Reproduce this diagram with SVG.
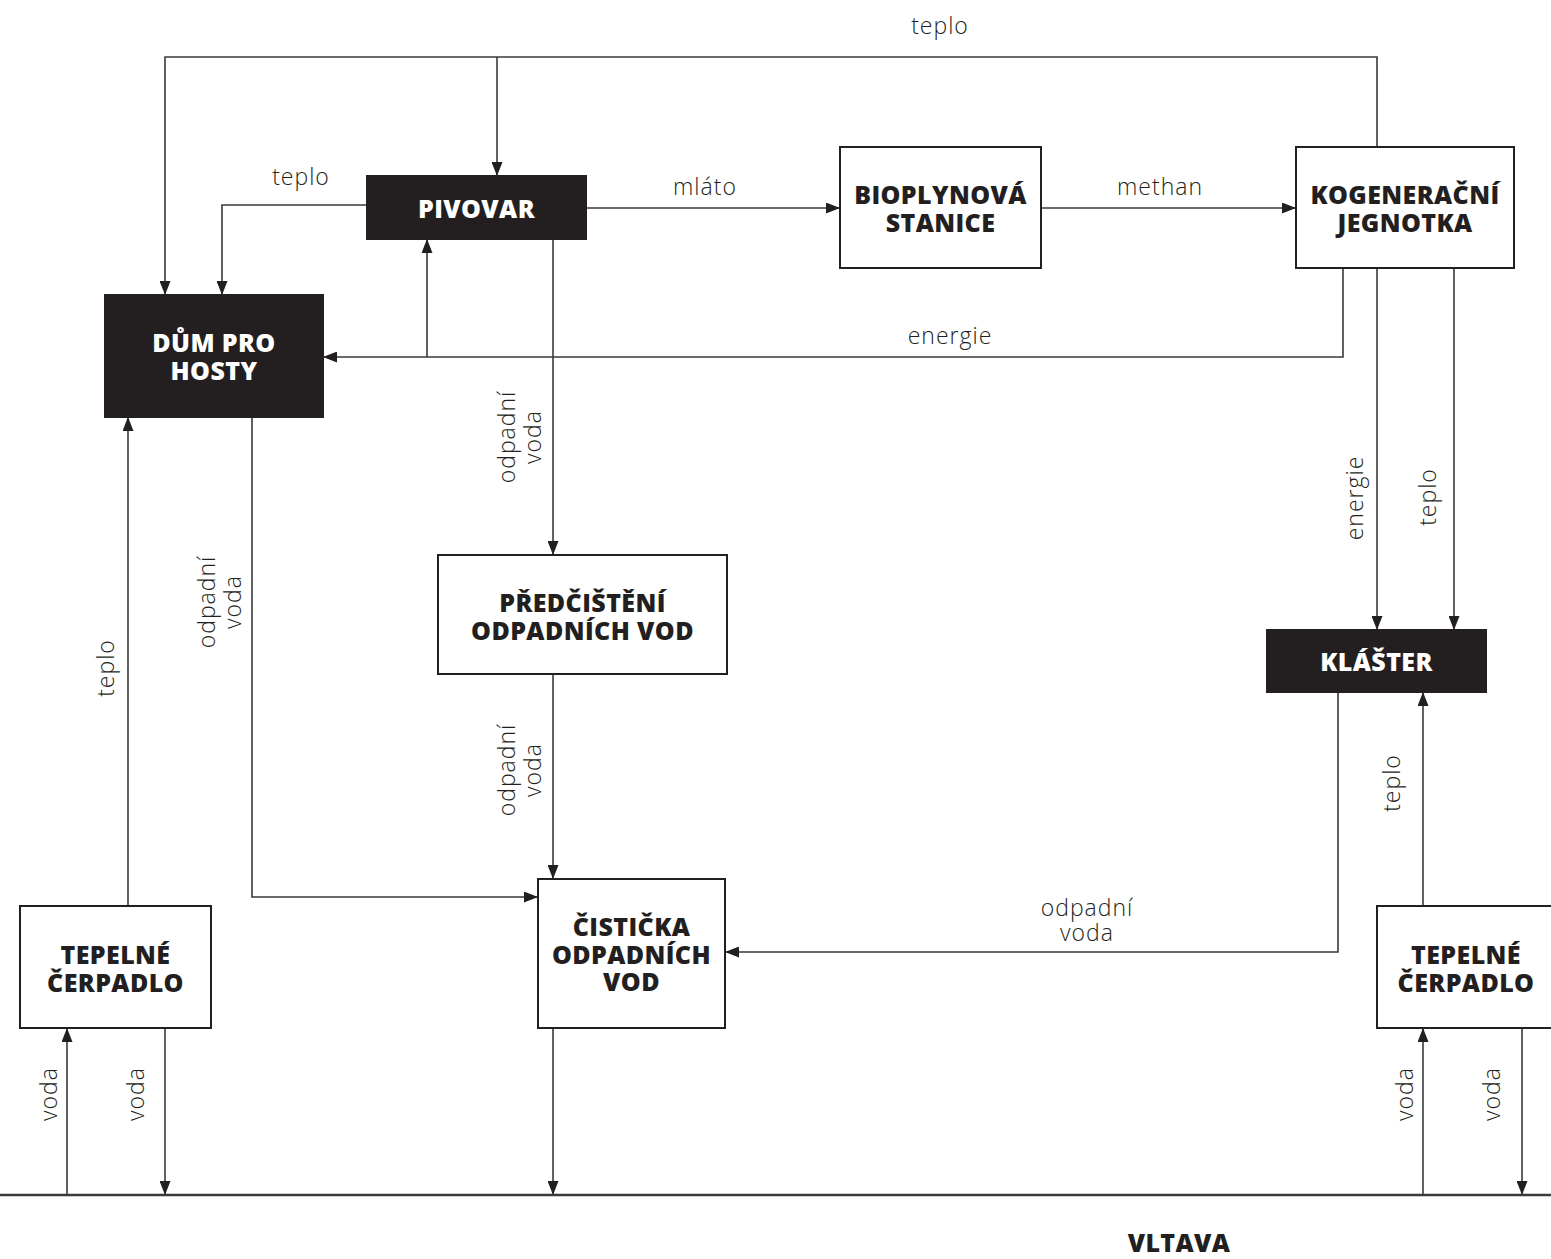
<svg xmlns="http://www.w3.org/2000/svg" width="1551" height="1259" viewBox="0 0 1551 1259">
<style>
.box{fill:#fff;stroke:#231f20;stroke-width:2}
.dark{fill:#231f20;stroke:#231f20;stroke-width:2}
.t{font-family:"Open Sans","Liberation Sans",sans-serif;font-weight:800;font-size:25px;text-anchor:middle;fill:#231f20;letter-spacing:0.4px}
.tw{fill:#fff}
.l{font-family:"Open Sans","Liberation Sans",sans-serif;font-weight:300;font-size:23px;text-anchor:middle;fill:#231f20;letter-spacing:1px}
.c{fill:none;stroke:#3a3a3a;stroke-width:1.6}
</style>
<defs>
<marker id="ah" viewBox="0 0 14 11" refX="14" refY="5.5" markerWidth="14" markerHeight="11" orient="auto" markerUnits="userSpaceOnUse">
<path d="M0,0 L14,5.5 L0,11 Z" fill="#231f20"/>
</marker>
</defs>
<g id="connectors">
<path class="c" d="M1377,147 V57 H165 V295" marker-end="url(#ah)"/>
<path class="c" d="M497,57 V176" marker-end="url(#ah)"/>
<path class="c" d="M367,205 H222 V295" marker-end="url(#ah)"/>
<path class="c" d="M586,208 H840" marker-end="url(#ah)"/>
<path class="c" d="M1041,208 H1296" marker-end="url(#ah)"/>
<path class="c" d="M1343,268 V357 H323" marker-end="url(#ah)"/>
<path class="c" d="M427,357 V239" marker-end="url(#ah)"/>
<path class="c" d="M1377,268 V630" marker-end="url(#ah)"/>
<path class="c" d="M1454,268 V630" marker-end="url(#ah)"/>
<path class="c" d="M553,239 V555" marker-end="url(#ah)"/>
<path class="c" d="M553,674 V879" marker-end="url(#ah)"/>
<path class="c" d="M553,1028 V1195" marker-end="url(#ah)"/>
<path class="c" d="M252,417 V897 H538" marker-end="url(#ah)"/>
<path class="c" d="M128,906 V417" marker-end="url(#ah)"/>
<path class="c" d="M1338,692 V952 H725" marker-end="url(#ah)"/>
<path class="c" d="M1423,906 V692" marker-end="url(#ah)"/>
<path class="c" d="M67,1195 V1028" marker-end="url(#ah)"/>
<path class="c" d="M165,1028 V1195" marker-end="url(#ah)"/>
<path class="c" d="M1423,1195 V1028" marker-end="url(#ah)"/>
<path class="c" d="M1522,1028 V1195" marker-end="url(#ah)"/>
<line x1="0" y1="1195" x2="1551" y2="1195" stroke="#3a3a3a" stroke-width="2.5"/>
<text class="l" x="940" y="34">teplo</text>
<text class="l" x="301" y="185">teplo</text>
<text class="l" x="705" y="195">mláto</text>
<text class="l" x="1160" y="195">methan</text>
<text class="l" x="950" y="344">energie</text>
<text class="l" x="1087" y="916">odpadní<tspan x="1087" dy="25">voda</tspan></text>
<text class="l" transform="translate(114,668) rotate(-90)">teplo</text>
<text class="l" transform="translate(215,602) rotate(-90)">odpadní<tspan x="0" dy="26">voda</tspan></text>
<text class="l" transform="translate(515,437) rotate(-90)">odpadní<tspan x="0" dy="26">voda</tspan></text>
<text class="l" transform="translate(515,770) rotate(-90)">odpadní<tspan x="0" dy="26">voda</tspan></text>
<text class="l" transform="translate(1363,498) rotate(-90)">energie</text>
<text class="l" transform="translate(1436,497) rotate(-90)">teplo</text>
<text class="l" transform="translate(1400,783) rotate(-90)">teplo</text>
<text class="l" transform="translate(57,1094) rotate(-90)">voda</text>
<text class="l" transform="translate(144,1094) rotate(-90)">voda</text>
<text class="l" transform="translate(1413,1094) rotate(-90)">voda</text>
<text class="l" transform="translate(1500,1094) rotate(-90)">voda</text>
</g>
<g id="pivovar">
<rect class="dark" x="367" y="176" width="219" height="63"/>
<text class="t tw" x="476.5" y="218">PIVOVAR</text>
</g>
<g id="bioplynova">
<rect class="box" x="840" y="147" width="201" height="121"/>
<text class="t" x="940.5" y="204">BIOPLYNOVÁ<tspan x="940.5" dy="28">STANICE</tspan></text>
</g>
<g id="kogeneracni">
<rect class="box" x="1296" y="147" width="218" height="121"/>
<text class="t" x="1405" y="204">KOGENERAČNÍ<tspan x="1405" dy="28">JEGNOTKA</tspan></text>
</g>
<g id="dum">
<rect class="dark" x="105" y="295" width="218" height="122"/>
<text class="t tw" x="214" y="352">DŮM PRO<tspan x="214" dy="28">HOSTY</tspan></text>
</g>
<g id="predcisteni">
<rect class="box" x="438" y="555" width="289" height="119"/>
<text class="t" x="582.5" y="612">PŘEDČIŠTĚNÍ<tspan x="582.5" dy="28">ODPADNÍCH VOD</tspan></text>
</g>
<g id="klaster">
<rect class="dark" x="1267" y="630" width="219" height="62"/>
<text class="t tw" x="1376.5" y="671">KLÁŠTER</text>
</g>
<g id="cisticka">
<rect class="box" x="538" y="879" width="187" height="149"/>
<text class="t" x="631.5" y="936">ČISTIČKA<tspan x="631.5" dy="28">ODPADNÍCH</tspan><tspan x="631.5" dy="27">VOD</tspan></text>
</g>
<g id="cerpadlo-left">
<rect class="box" x="20" y="906" width="191" height="122"/>
<text class="t" x="115.5" y="964">TEPELNÉ<tspan x="115.5" dy="28">ČERPADLO</tspan></text>
</g>
<g id="cerpadlo-right">
<rect class="box" x="1377" y="906" width="178" height="122"/>
<text class="t" x="1466" y="964">TEPELNÉ<tspan x="1466" dy="28">ČERPADLO</tspan></text>
</g>
<g id="vltava">
<text class="t" x="1179" y="1252">VLTAVA</text>
</g>
</svg>
